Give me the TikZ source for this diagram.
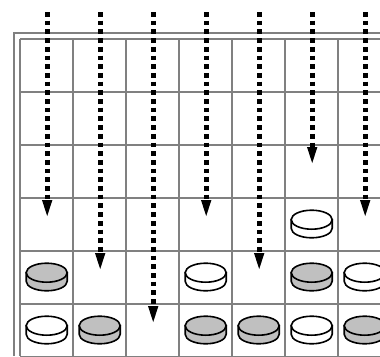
\documentclass[tikz,border=0pt]{standalone}
\usepackage{tikz}
\usetikzlibrary{arrows.meta}
\definecolor{gridgray}{RGB}{128,128,128}
\definecolor{chipgray}{RGB}{192,192,192}

\begin{document}
\begin{tikzpicture}[x=1pt, y=-1pt,
  frame/.style={draw=gridgray, line width=2.8pt},
  drop/.style={line width=4.7pt, dash pattern=on 4.7pt off 4pt,
               -{Triangle[length=16pt, width=10.5pt, line width=0pt]}},
  chip/.pic={
    \path[draw=black, line width=1.6pt, fill=#1]
      (-20.5,-4.3) -- (-20.5,4.3)
      arc[start angle=180, end angle=360, x radius=20.5pt, y radius=9.5pt]
      -- (20.5,-4.3) -- cycle;
    \path[draw=black, line width=1.6pt, fill=#1]
      (0,-4.3) ellipse[x radius=20.5pt, y radius=9.5pt];
  }]
  \useasboundingbox (0,0) rectangle (380,356);
  \clip (0,0) rectangle (380,356);
  \draw[frame] (14,356) -- (14,33) -- (380,33);
  \foreach \k in {0,...,6} {
    \draw[frame] ({20+53*\k},39) -- ({20+53*\k},356);
    \draw[frame] (20,{39+53*\k}) -- (380,{39+53*\k});
  }
  \foreach \c/\r/\f in {1/5/chipgray, 4/5/white, 6/5/chipgray, 7/5/white,
                        6/4/white,
                        1/6/white, 2/6/chipgray, 4/6/chipgray, 5/6/chipgray,
                        6/6/white, 7/6/chipgray}
    \pic at ({46.7+53*(\c-1)},{39+53*(\r-1)+26}) {chip=\f};
  \foreach \c/\r in {1/4, 2/5, 3/6, 4/4, 5/5, 6/3, 7/4} {
    \coordinate (top\c) at ({47.2+53*(\c-1)},12);
    \coordinate (tip\c) at ({47.2+53*(\c-1)},{38+53*(\r-1)+19});
    \draw[drop] (top\c) -- (tip\c);
  }
\end{tikzpicture}
\end{document}
